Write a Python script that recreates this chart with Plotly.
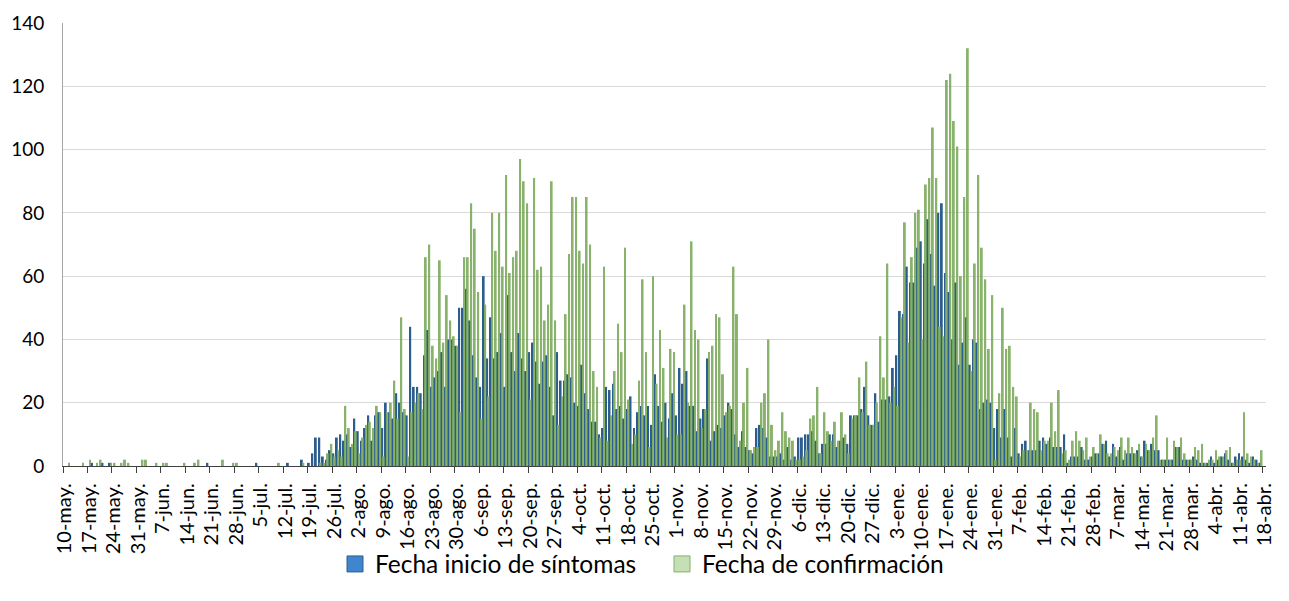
import plotly.graph_objects as go

# Daily cases, 10-may (day 0) to 18-abr (day 343)
sintomas = [
    0,0,0,0,0,0,0,0,1,0, 0,1,0,1,0,0,0,0,0,0, 0,0,0,0,0,0,0,0,0,0, 0,0,0,0,0,0,0,0,0,0,
    0,1,0,0,0,0,0,0,0,0, 0,0,0,0,0,1,0,0,0,0, 0,0,0,0,1,0,0,0,2,0,
    1,4,9,9,3,2,5,4,9,10, 8,10,6,15,11,8,12,16,8,16, 17,12,20,17,15,23,20,17,16,44,
    25,25,23,35,43,25,28,30,36,25, 40,40,38,50,50,56,46,35,28,25,
    60,34,47,34,36,42,25,54,36,30, 42,34,30,36,39,33,26,33,35,25,
    16,36,27,27,29,28,20,19,32,23, 18,14,14,10,12,25,24,26,18,19,
    15,18,22,12,17,19,16,19,13,29, 19,14,20,15,23,16,31,26,30,19,
    19,11,15,18,34,8,11,13,12,16, 20,18,10,6,11,6,5,4,12,13,
    12,9,3,3,3,4,2,6,2,3, 9,9,10,10,11,8,4,7,7,10,
    10,6,8,9,7,16,16,16,18,25, 16,13,23,14,21,21,22,31,35,49,
    48,63,58,58,69,71,64,78,67,57, 80,83,61,55,40,58,32,39,47,32,
    40,39,18,20,21,20,12,18,9,18, 9,3,12,4,7,8,5,5,5,8,
    9,7,9,6,6,6,10,1,3,3, 3,6,2,2,3,4,4,7,8,3,
    7,3,6,2,4,4,4,5,3,8, 5,7,5,5,2,2,2,2,6,6,
    2,2,2,3,2,1,1,1,3,1, 2,3,4,2,1,3,4,3,2,1,
    3,2,1,0,
]
confirmacion = [
    0,1,0,0,0,1,0,2,0,1, 2,0,0,1,1,0,1,2,1,0, 0,0,2,2,0,0,1,0,1,1, 0,0,0,0,1,0,0,1,2,0,
    0,0,0,0,0,2,0,0,1,1, 0,0,0,0,0,0,0,0,0,0, 0,1,0,0,0,0,0,0,1,0,
    0,0,0,1,1,4,7,3,5,3, 19,12,7,11,4,9,13,14,12,19, 17,3,17,20,27,15,47,18,3,17,
    20,23,18,66,70,38,34,65,39,54, 46,41,38,17,66,66,83,75,55,15,
    51,22,80,68,80,63,92,61,66,68, 97,90,83,21,91,62,63,46,51,90,
    46,13,22,48,67,85,85,68,64,85, 70,30,25,9,63,8,16,30,45,36,
    69,21,7,10,27,59,36,6,60,26, 43,31,9,37,36,10,10,51,20,71,
    43,40,12,18,36,38,48,47,29,17, 19,63,48,8,20,31,5,6,6,20,
    23,40,13,5,8,17,11,9,8,2, 2,3,5,15,16,25,4,17,11,8,
    14,8,17,10,4,15,16,28,17,33, 13,13,20,41,28,64,20,25,19,47,
    77,39,66,80,81,40,89,91,107,91, 44,41,122,124,109,101,60,85,132,30,
    64,92,69,59,37,54,2,23,50,37, 38,25,22,3,5,5,20,18,17,5,
    8,8,20,11,24,4,5,2,8,11, 8,5,9,3,6,4,10,7,4,4,
    6,5,9,5,9,6,4,7,3,7, 5,9,16,2,2,9,2,8,6,9,
    4,2,2,6,5,7,1,2,2,5, 3,3,5,6,1,2,2,17,4,3,
    2,1,5,0,
]
tick_labels = ["10-may.","17-may.","24-may.","31-may.","7-jun.","14-jun.","21-jun.","28-jun.",
               "5-jul.","12-jul.","19-jul.","26-jul.","2-ago.","9-ago.","16-ago.","23-ago.",
               "30-ago.","6-sep.","13-sep.","20-sep.","27-sep.","4-oct.","11-oct.","18-oct.",
               "25-oct.","1-nov.","8-nov.","15-nov.","22-nov.","29-nov.","6-dic.","13-dic.",
               "20-dic.","27-dic.","3-ene.","10-ene.","17-ene.","24-ene.","31-ene.","7-feb.",
               "14-feb.","21-feb.","28-feb.","7-mar.","14-mar.","21-mar.","28-mar.","4-abr.",
               "11-abr.","18-abr."]
series_names = ["Fecha inicio de síntomas", "Fecha de confirmación"]

dias = list(range(len(sintomas)))
tick_days = [7 * i for i in range(len(tick_labels))]

FONT = "Lato"
W, H = 1289, 601
ML, MR, MT, MB = 63, 23, 23, 135
pw = W - ML - MR
ph = H - MT - MB

fig = go.Figure()
fig.add_trace(go.Bar(x=dias, y=sintomas, width=0.56, offset=-0.5,
                     marker=dict(color="#2B5D8F", line=dict(width=0)),
                     showlegend=False, hoverinfo="x+y"))
fig.add_trace(go.Bar(x=dias, y=confirmacion, width=0.56, offset=-0.06,
                     marker=dict(color="#7DAA5E", line=dict(width=0)), opacity=0.9,
                     showlegend=False, hoverinfo="x+y"))
# legend entries
fig.add_trace(go.Scatter(x=[None], y=[None], mode="markers", name=series_names[0],
                         marker=dict(symbol="square", size=16, color="#3F86CE",
                                     line=dict(color="#2F5F8F", width=1))))
fig.add_trace(go.Scatter(x=[None], y=[None], mode="markers", name=series_names[1],
                         marker=dict(symbol="square", size=16, color="#C5E0B4",
                                     line=dict(color="#86B06A", width=1))))

fig.update_layout(
    width=W, height=H,
    margin=dict(l=ML, r=MR, t=MT, b=MB, autoexpand=False),
    paper_bgcolor="white", plot_bgcolor="white",
    barmode="overlay",
    font=dict(family=FONT, color="#000000", size=19),
    legend=dict(orientation="h", x=(335 - ML) / pw, xanchor="left",
                y=-(564 - (H - MB)) / ph, yanchor="middle",
                bgcolor="rgba(0,0,0,0)",
                font=dict(size=24.5, family=FONT, color="#000000"),
                itemwidth=30, traceorder="normal",
                entrywidth=282, entrywidthmode="pixels"),
)
fig.update_xaxes(
    range=[-0.5, len(dias) - 0.5], automargin=False,
    tickmode="array", tickvals=[d - 0.5 for d in tick_days], ticktext=tick_labels,
    tickangle=-90, ticks="outside", ticklen=6, tickcolor="#404040", tickwidth=1,
    ticklabelshift=2, ticklabelstandoff=2,
    showline=True, linecolor="#404040", linewidth=1.3,
    showgrid=False, zeroline=False,
    tickfont=dict(size=20, family=FONT, color="#000000"),
)
fig.update_yaxes(
    range=[0, 140], dtick=20, tick0=0, automargin=False,
    showgrid=True, gridcolor="#D9D9D9", gridwidth=1,
    showline=True, linecolor="#A6A6A6", linewidth=1,
    zeroline=False, ticks="", ticklabelstandoff=14,
    tickfont=dict(size=19, family=FONT, color="#000000"),
)
fig.write_html("out.html", config={"displayModeBar": False},
               post_script="document.body.style.margin='0';document.body.style.overflow='hidden';")
